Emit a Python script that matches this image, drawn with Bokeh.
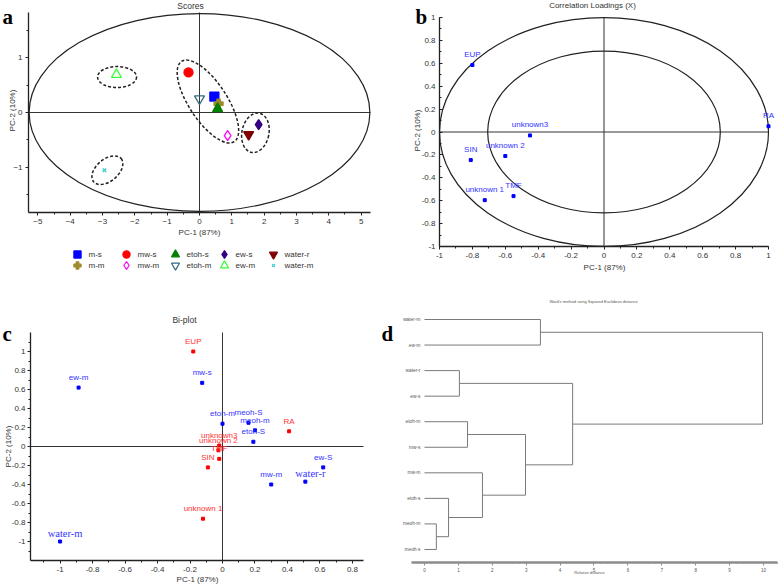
import numpy as np
from bokeh.plotting import figure
from bokeh.models import (Range1d, Label, LabelSet, ColumnDataSource, LinearAxis,
                          SingleIntervalTicker, CustomJSTickFormatter)
from bokeh.embed import file_html
from bokeh.resources import INLINE
from bokeh.core.properties import value

# ------------------------------------------------------------------ data
# (a) PCA scores
samples = ["m-s", "m-m", "mw-s", "mw-m", "etoh-s", "etoh-m", "ew-s", "ew-m", "water-r", "water-m"]
score_pc1 = [0.46, 0.59, -0.34, 0.87, 0.56, 0.00, 1.83, -2.57, 1.52, -2.94]
score_pc2 = [0.29, 0.16, 0.73, -0.42, 0.07, 0.25, -0.22, 0.69, -0.40, -1.05]
T2_PC1 = 5.27          # Hotelling ellipse half-axes
T2_PC2 = 1.80
cluster_pc1 = [-2.55, 0.26, 1.73, -2.85]
cluster_pc2 = [0.645, 0.20, -0.37, -1.05]

# (b) correlation loadings
loading_vars = ["EUP", "RA", "unknown3", "unknown 2", "SIN", "TMF", "unknown 1"]
loading_pc1 = [-0.80, 1.00, -0.45, -0.60, -0.81, -0.55, -0.725]
loading_pc2 = [0.585, 0.05, -0.03, -0.21, -0.245, -0.56, -0.595]
R_OUTER = 1.0
R_INNER = 0.7071

# (c) bi-plot
bi_samples = ["ew-m", "mw-s", "etoh-m", "meoh-S", "meoh-m", "etoh-S", "ew-S", "mw-m", "water-r", "water-m"]
bi_s_pc1 = [-0.886, -0.125, 0.00, 0.16, 0.20, 0.19, 0.62, 0.30, 0.51, -1.00]
bi_s_pc2 = [0.62, 0.67, 0.24, 0.25, 0.17, 0.05, -0.22, -0.40, -0.37, -1.00]
bi_vars = ["EUP", "RA", "unknown3", "unknown 2", "TMF", "SIN", "unknown 1"]
bi_v_pc1 = [-0.18, 0.41, -0.02, -0.025, -0.02, -0.09, -0.12]
bi_v_pc2 = [1.00, 0.16, 0.01, -0.04, -0.13, -0.22, -0.76]

# (d) Ward dendrogram
leaves = ["water-m", "ew-m", "water-r", "ew-s", "etoh-m", "mw-s", "mw-m", "etoh-s", "meoh-m", "meoh-s"]
merge_a = [8, 7, 2, 4, 6, 13, 0, 12, 16]
merge_b = [9, 10, 3, 5, 11, 14, 1, 15, 17]
merge_dist = [0.35, 0.71, 1.03, 1.27, 1.71, 2.98, 3.42, 4.37, 9.97]

# ------------------------------------------------------------------ styles / layout
SANS = "Liberation Sans"
SERIF = "Liberation Serif"
mk_type = ["square", "plus", "circle", "diamond", "triangle", "inverted_triangle",
           "diamond", "triangle", "inverted_triangle", "x"]
mk_line = ["#0000ff", "#9c8a2c", "#ff0000", "#ff00ff", "#008000", "#336b80",
           "#330080", "#33ff33", "#7f0000", "#33cccc"]
mk_fill_alpha = [1, 1, 1, 0, 1, 0, 1, 0, 1, 0]
mk_size = [9, 9, 9, 10, 10, 10, 10, 10, 10, 5]

PW, PH = 778, 587
# panel frames in page pixels: left, top, width, height, x-left, x-right, y-top, y-bottom
GA = (28, 12, 342, 200, -5.29, 5.29, 1.82, -1.82)
GB = (439, 17, 329, 229, -1.0, 1.0, 1.0, -1.0)
GC = (30, 332, 333, 228, -1.182, 0.868, 1.2, -1.2)
GD = (411, 306, 366, 256, -0.383, 10.413, -0.509, 9.51)


def panel_ranges(g):
    L, T, W, H, xl, xr, yt, yb = g
    fx = lambda px: xl + (px - L) / W * (xr - xl)
    fy = lambda py: yt + (py - T) / H * (yb - yt)
    return Range1d(fx(0), fx(PW)), Range1d(fy(PH), fy(0))


rng = {k: panel_ranges(g) for k, g in (("a", GA), ("b", GB), ("c", GC), ("d", GD))}

p = figure(width=PW, height=PH, x_range=Range1d(0, PW), y_range=Range1d(PH, 0),
           min_border=0, x_axis_location=None, y_axis_location=None,
           output_backend="svg", toolbar_location=None)
p.extra_x_ranges = {k: v[0] for k, v in rng.items()}
p.extra_y_ranges = {k: v[1] for k, v in rng.items()}
p.outline_line_color = None
p.background_fill_color = "white"
p.border_fill_color = "white"
for g in p.grid:
    g.visible = False

fmt = CustomJSTickFormatter(code="return Number(tick.toFixed(2)).toString();")


def add_axis(name, side, loc, bounds, interval, minor, formatter=None, size="8px",
             tick_in=0, tick_out=3, standoff=3, color="#222222", width=1.3):
    ax = LinearAxis(x_range_name=name, y_range_name=name, fixed_location=loc, bounds=bounds,
                    ticker=SingleIntervalTicker(interval=interval, num_minor_ticks=minor))
    if formatter is not None:
        ax.formatter = formatter
    ax.axis_line_color = color
    ax.axis_line_width = width
    ax.major_tick_line_color = color
    ax.minor_tick_line_color = color
    ax.major_tick_in = tick_in
    ax.major_tick_out = tick_out
    ax.minor_tick_in = min(tick_in, 2)
    ax.minor_tick_out = min(tick_out, 2)
    ax.major_label_text_font = SANS
    ax.major_label_text_font_size = size
    ax.major_label_text_color = "#333333"
    ax.major_label_standoff = standoff
    p.add_layout(ax, side)
    return ax


def text(px, py, t, size="8px", color="#333333", font=SANS, style="normal",
         angle=0.0, align="center", baseline="middle"):
    p.add_layout(Label(x=px, y=py, text=t, text_font_size=size, text_color=color,
                       text_font=font, text_font_style=style, angle=angle,
                       text_align=align, text_baseline=baseline))


def zero_lines(name, g):
    L, T, W, H, xl, xr, yt, yb = g
    p.segment(x0=[xl, 0], y0=[0, yb], x1=[xr, 0], y1=[0, yt], line_color="#333333",
              line_width=1, x_range_name=name, y_range_name=name)


# ------------------------------------------------------------------ panel a
add_axis("a", "left", GA[4], (GA[7], GA[6]), 1, 2)
add_axis("a", "below", GA[7], (GA[4], GA[5]), 1, 2)
zero_lines("a", GA)
p.ellipse(x=[0], y=[0], width=[2 * T2_PC1], height=[2 * T2_PC2], fill_color=None,
          line_color="#222222", line_width=1.2, x_range_name="a", y_range_name="a")
p.ellipse(x=cluster_pc1, y=cluster_pc2, width=[39, 96, 27, 36], height=[21, 38, 40, 22],
          angle=[0, -0.99, -0.2, 0.7], width_units="screen", height_units="screen",
          fill_color=None, line_color="#222222", line_dash="3 2", line_width=1.5,
          x_range_name="a", y_range_name="a")
src_a = ColumnDataSource(dict(x=score_pc1, y=score_pc2, mk=mk_type, lc=mk_line,
                              fa=mk_fill_alpha, sz=mk_size))
p.scatter(x="x", y="y", marker="mk", size="sz", line_color="lc", fill_color="lc",
          fill_alpha="fa", line_width=1.3, source=src_a, x_range_name="a", y_range_name="a")
text(190, 5, "Scores", size="8.5px")
text(199, 232, "PC-1 (87%)")
text(12, 110, "PC-2 (10%)", angle=np.pi / 2)
text(2, 16, "a", size="21px", color="black", font=SERIF, style="bold",
     align="left", baseline="alphabetic")

# legend of panel a (2 rows x 5 columns)
idx = np.arange(len(samples))
leg_x = 77 + 49 * (idx // 2)
leg_y = 254 + 11 * (idx % 2)
src_l = ColumnDataSource(dict(x=leg_x, y=leg_y, tx=leg_x + 11, lab=samples, mk=mk_type,
                              lc=mk_line, fa=mk_fill_alpha,
                              sz=[0.8 * s for s in mk_size]))
p.scatter(x="x", y="y", marker="mk", size="sz", line_color="lc", fill_color="lc",
          fill_alpha="fa", line_width=1.2, source=src_l)
p.text(x="tx", y="y", text="lab", text_font=value(SANS), text_font_size=value("8px"),
       text_color="#333333", text_baseline="middle", source=src_l)

# ------------------------------------------------------------------ panel b
add_axis("b", "left", GB[4], (GB[7], GB[6]), 0.2, 2, fmt, tick_in=3, tick_out=0, standoff=4)
add_axis("b", "below", GB[7], (GB[4], GB[5]), 0.2, 2, fmt)
zero_lines("b", GB)
p.ellipse(x=[0, 0], y=[0, 0], width=[2 * R_OUTER, 2 * R_INNER], height=[2 * R_OUTER, 2 * R_INNER],
          fill_color=None, line_color="#222222", line_width=1.2, x_range_name="b", y_range_name="b")
src_b = ColumnDataSource(dict(x=loading_pc1, y=loading_pc2, lab=loading_vars))
p.scatter(x="x", y="y", marker="square", size=3, color="#0000ff", source=src_b,
          x_range_name="b", y_range_name="b")
p.add_layout(LabelSet(x="x", y="y", text="lab", source=src_b, y_offset=11,
                      x_range_name="b", y_range_name="b",
                      text_align="center", text_baseline="middle",
                      text_font=value(SANS), text_font_size=value("8px"),
                      text_color="#3333ff"))
text(592, 5, "Correlation Loadings (X)")
text(604, 267, "PC-1 (87%)")
text(417, 130, "PC-2 (10%)", angle=np.pi / 2)
text(415, 16, "b", size="21px", color="black", font=SERIF, style="bold",
     align="left", baseline="alphabetic")

# ------------------------------------------------------------------ panel c
add_axis("c", "left", GC[4], (GC[7], GC[6]), 0.2, 2, fmt, standoff=2)
add_axis("c", "below", GC[7], (GC[4], GC[5]), 0.2, 2, fmt)
zero_lines("c", GC)
serif_set = {"water-r", "water-m"}
src_cs = ColumnDataSource(dict(x=bi_s_pc1, y=bi_s_pc2,
                               lab=[s if s not in serif_set else "" for s in bi_samples],
                               lab2=[s if s in serif_set else "" for s in bi_samples]))
src_cv = ColumnDataSource(dict(x=bi_v_pc1, y=bi_v_pc2, lab=bi_vars))
p.scatter(x="x", y="y", marker="square", size=3, color="#0000ff", source=src_cs,
          x_range_name="c", y_range_name="c")
p.scatter(x="x", y="y", marker="square", size=3, color="#ff0000", source=src_cv,
          x_range_name="c", y_range_name="c")
p.add_layout(LabelSet(x="x", y="y", text="lab", source=src_cs, y_offset=10,
                      x_range_name="c", y_range_name="c",
                      text_align="center", text_baseline="middle",
                      text_font=value(SANS), text_font_size=value("8px"),
                      text_color="#3333ff"))
p.add_layout(LabelSet(x="x", y="y", text="lab2", source=src_cs, y_offset=8, x_offset=5,
                      x_range_name="c", y_range_name="c",
                      text_align="center", text_baseline="middle",
                      text_font=value(SERIF), text_font_size=value("10.5px"),
                      text_color="#3333ff"))
p.add_layout(LabelSet(x="x", y="y", text="lab", source=src_cv, y_offset=10,
                      x_range_name="c", y_range_name="c",
                      text_align="center", text_baseline="middle",
                      text_font=value(SANS), text_font_size=value("8px"),
                      text_color="#ff3333"))
text(184, 319, "Bi-plot", size="8.5px")
text(197, 579, "PC-1 (87%)")
text(8, 446, "PC-2 (10%)", angle=np.pi / 2)
text(2, 333, "c", size="21px", color="black", font=SERIF, style="bold",
     align="left", baseline="alphabetic")
text(381, 333, "d", size="21px", color="black", font=SERIF, style="bold",
     align="left", baseline="alphabetic")

# ------------------------------------------------------------------ panel d
axd = add_axis("d", "below", GD[7], (GD[4], GD[5]), 1, 5, size="4.5px", tick_out=3,
               standoff=2, color="#8c8c8c", width=2.5)
axd.minor_tick_out = 1
axd.major_label_text_color = "#555555"

node_y = [float(i) for i in range(len(leaves))]
node_h = [0.0] * len(leaves)
x0s, y0s, x1s, y1s = [], [], [], []
for a, b, d in zip(merge_a, merge_b, merge_dist):
    ya, yb = node_y[a], node_y[b]
    x0s += [node_h[a], node_h[b], d]
    y0s += [ya, yb, ya]
    x1s += [d, d, d]
    y1s += [ya, yb, yb]
    node_y.append((ya + yb) / 2)
    node_h.append(d)
p.segment(x0=x0s, y0=y0s, x1=x1s, y1=y1s, line_color="#7a7a7a", line_width=1,
          x_range_name="d", y_range_name="d")
src_d = ColumnDataSource(dict(x=[0.0] * len(leaves), y=list(range(len(leaves))), lab=leaves))
p.add_layout(LabelSet(x="x", y="y", text="lab", source=src_d, x_offset=-4,
                      x_range_name="d", y_range_name="d",
                      text_align="right", text_baseline="middle",
                      text_font=value(SANS), text_font_size=value("4.8px"),
                      text_color="#555555"))
text(593, 301, "Ward's method using Squared Euclidean distance", size="4px", color="#555555")
text(589, 572, "Relative distance", size="4px", color="#555555")

open("out.html", "w").write(file_html(p, INLINE))
